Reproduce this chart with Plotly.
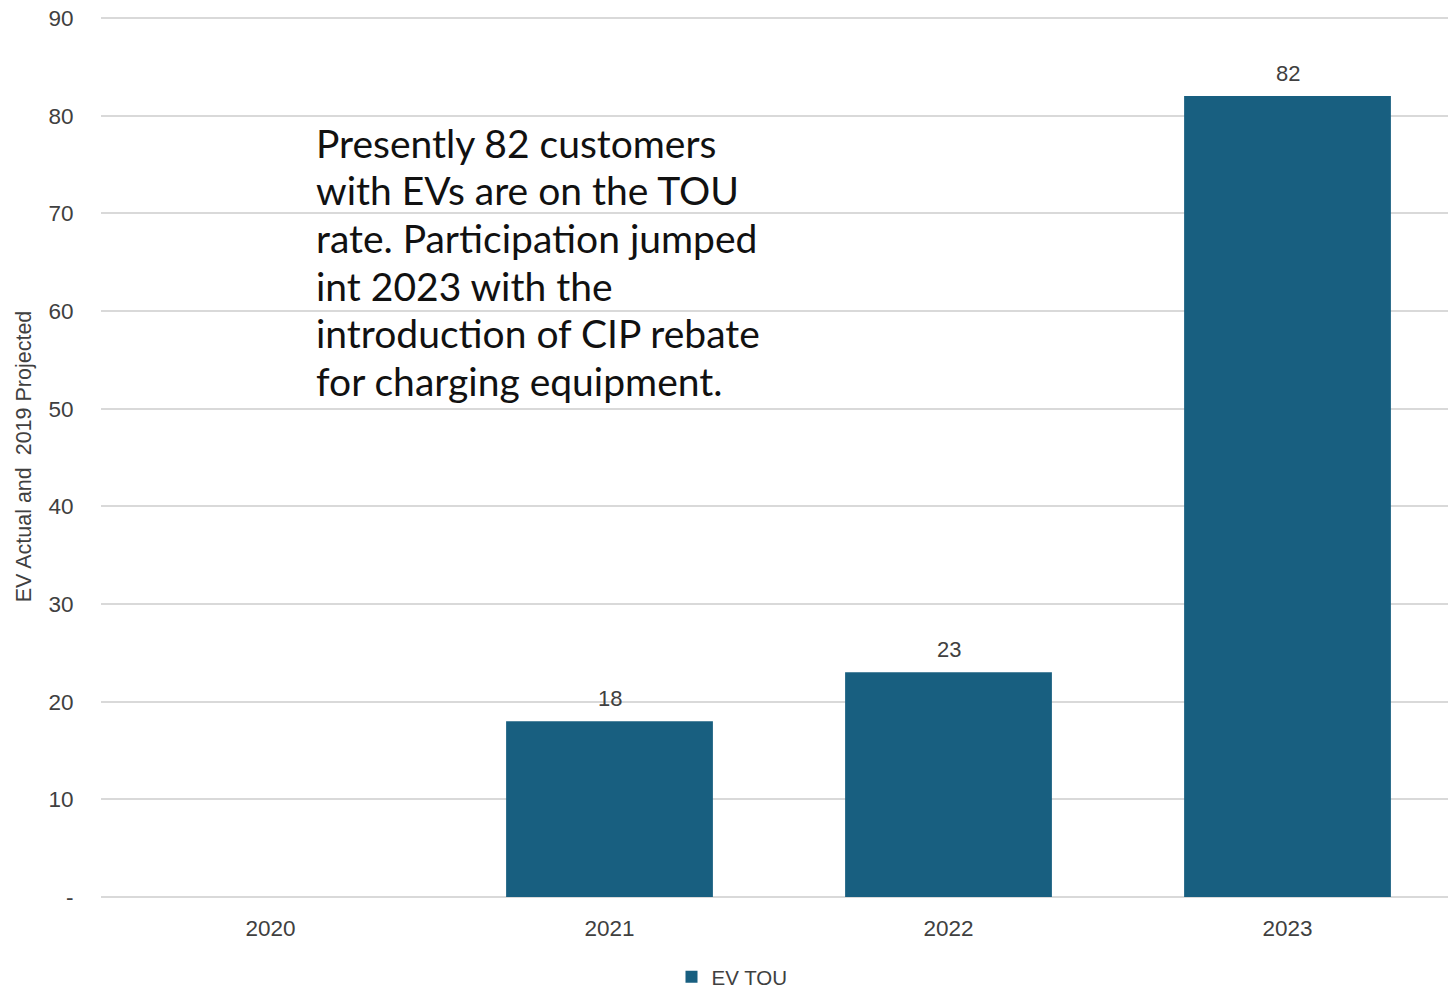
import plotly.graph_objects as go

years = ["2020", "2021", "2022", "2023"]
ev_tou = [0, 18, 23, 82]
bar_labels = ["" if v == 0 else str(v) for v in ev_tou]
y_tickvals = [0, 10, 20, 30, 40, 50, 60, 70, 80, 90]
y_ticktext = ["-", "10", "20", "30", "40", "50", "60", "70", "80", "90"]
note_lines = [
    "Presently 82 customers",
    "with EVs are on the TOU",
    "rate. Participation jumped",
    "int 2023 with the",
    "introduction of CIP rebate",
    "for charging equipment.",
]

# the page body margin is removed (see post_script), so figure pixels = screen pixels
W, H = 1448, 990
ymax = 90.2
mb = H - 897
ph_target = (897 - 18) * ymax / 90.0
mt = int(round(H - mb - ph_target))
ml, mr = 101, 0
pw = W - ml - mr
ph = H - mt - mb
cat_w = 339.0
xmax = -0.5 + pw / cat_w


def px_x(xs):
    return (xs - ml) / pw


def px_y(ys):
    return (897 - ys) / ph


fig = go.Figure()
fig.add_trace(go.Bar(
    x=years, y=ev_tou, name="EV TOU",
    marker=dict(color="#185f80", line=dict(width=0)),
))

annotations = []
for i, (v, lab) in enumerate(zip(ev_tou, bar_labels)):
    if lab:
        annotations.append(dict(
            x=i, y=v, xref="x", yref="y", text=lab, showarrow=False,
            yanchor="bottom", yshift=8,
            font=dict(size=22, color="#404040", family="Liberation Sans, Arial"),
        ))

line_gap = 47.5
first_center = 143
for i, line in enumerate(note_lines):
    ypix = first_center + i * line_gap
    annotations.append(dict(
        text=line, xref="paper", yref="paper",
        x=px_x(314), y=px_y(ypix), xanchor="left", yanchor="middle",
        align="left", showarrow=False,
        font=dict(family="Lato, Calibri", size=39, color="#111111"),
    ))

fig.update_layout(
    width=W, height=H,
    margin=dict(l=ml, r=mr, t=mt, b=mb, autoexpand=False),
    plot_bgcolor="white", paper_bgcolor="white",
    font=dict(family="Liberation Sans, Arial", color="#404040", size=22.5),
    bargap=0.39,
    showlegend=True,
    legend=dict(orientation="h", x=px_x(732), xanchor="center",
                y=px_y(977), yanchor="middle",
                font=dict(size=20.5, color="#404040")),
    xaxis=dict(type="category", range=[-0.5, xmax], showgrid=False, automargin=False,
               showline=False, ticks="outside", ticklen=11, tickcolor="rgba(0,0,0,0)",
               tickfont=dict(size=22.5, color="#404040")),
    yaxis=dict(range=[0, ymax], tickvals=y_tickvals, ticktext=y_ticktext, automargin=False,
               ticklabeloverflow="allow",
               showgrid=True, gridcolor="#d9d9d9", gridwidth=1.5,
               zeroline=True, zerolinecolor="#d9d9d9", zerolinewidth=1.5,
               showline=False, ticks="outside", ticklen=22, tickcolor="rgba(0,0,0,0)",
               tickfont=dict(size=22.5, color="#404040"),
               title=dict(text="EV Actual and  2019 Projected", standoff=10,
                          font=dict(size=21.5, color="#404040"))),
    annotations=annotations,
)

fig.write_html("out.html", config={"displayModeBar": False},
               post_script="document.body.style.margin='0px';")
